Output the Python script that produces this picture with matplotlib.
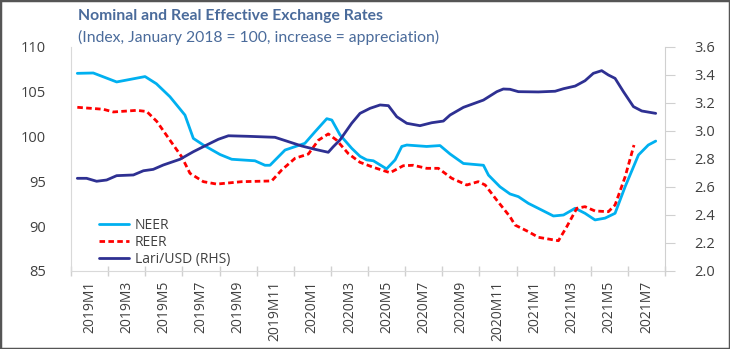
import matplotlib
matplotlib.use("Agg")
import matplotlib.pyplot as plt
from matplotlib.patches import Rectangle
import numpy as np

# x positions in months since start of 2019M1 (category axis, label at centre of 2-month span)
month_labels = ["2019M1", "2019M3", "2019M5", "2019M7", "2019M9", "2019M11",
                "2020M1", "2020M3", "2020M5", "2020M7", "2020M9", "2020M11",
                "2021M1", "2021M3", "2021M5", "2021M7"]

neer_x = [0.34, 1.2, 2.46, 3.99, 4.6, 5.33, 6.14, 6.59, 7.13, 8.03, 8.66, 9.91, 10.45, 10.72,
          11.53, 12.6, 13.15, 13.78, 14.05, 14.49, 15.12, 15.57, 15.93, 16.29, 17.0, 17.46,
          17.82, 18.09, 19.16, 19.88, 20.42, 21.14, 22.22, 22.49, 23.11, 23.65, 24.1, 24.64,
          25.36, 25.99, 26.53, 27.16, 27.69, 28.23, 28.77, 29.31, 29.85, 30.57, 31.1, 31.5]
neer = [107.06, 107.1, 106.1, 106.7, 105.9, 104.45, 102.4, 99.8, 99.06, 98.0, 97.47, 97.3, 96.8, 96.8,
        98.5, 99.25, 100.55, 102.0, 101.85, 100.2, 98.7, 97.8, 97.4, 97.3, 96.4, 97.4,
        98.9, 99.06, 98.9, 99.0, 98.06, 97.0, 96.8, 95.7, 94.4, 93.6, 93.3, 92.55,
        91.8, 91.14, 91.25, 92.0, 91.44, 90.7, 90.9, 91.44, 94.4, 97.95, 99.06, 99.5]

reer_x = [0.34, 1.74, 2.28, 3.54, 4.08, 4.62, 5.33, 5.96, 6.41, 7.13, 7.85, 9.2, 10.81, 11.35,
          12.07, 12.79, 13.33, 13.86, 14.31, 14.94, 15.57, 16.29, 17.19, 17.9, 18.44, 19.16,
          19.79, 20.51, 21.32, 21.94, 22.31, 22.94, 23.65, 23.92, 24.64, 25.18, 26.26, 26.71,
          27.25, 27.69, 28.23, 28.95, 29.31, 29.85, 30.33]
reer = [103.27, 103.05, 102.75, 102.93, 102.8, 101.7, 99.6, 97.76, 95.9, 94.97, 94.7, 94.97, 95.05, 96.27,
        97.58, 98.06, 99.6, 100.3, 99.6, 98.1, 97.13, 96.57, 95.97, 96.75, 96.8, 96.46,
        96.46, 95.35, 94.6, 94.97, 94.6, 92.9, 91.06, 90.13, 89.39, 88.76, 88.38, 89.95,
        92.0, 92.18, 91.7, 91.62, 92.37, 95.5, 99.06]

lari_x = [0.34, 0.84, 1.38, 1.92, 2.46, 3.36, 3.9, 4.43, 4.97, 5.87, 6.59, 7.31, 7.94, 8.48,
          9.55, 10.99, 11.71, 12.43, 13.15, 13.86, 14.13, 14.49, 15.12, 15.57, 16.11, 16.65,
          17.1, 17.55, 18.09, 18.8, 19.43, 20.06, 20.42, 21.14, 22.22, 22.94, 23.29, 23.65,
          24.1, 25.18, 26.08, 26.53, 27.16, 27.69, 28.14, 28.59, 28.95, 29.31, 29.76, 30.3,
          30.75, 31.5]
lari = [2.662, 2.662, 2.641, 2.65, 2.681, 2.686, 2.716, 2.726, 2.757, 2.798, 2.852, 2.9, 2.941, 2.966,
        2.962, 2.955, 2.924, 2.893, 2.869, 2.848, 2.888, 2.936, 3.055, 3.126, 3.162, 3.186,
        3.181, 3.102, 3.055, 3.038, 3.059, 3.071, 3.114, 3.169, 3.221, 3.281, 3.3, 3.298,
        3.281, 3.279, 3.284, 3.302, 3.321, 3.359, 3.412, 3.431, 3.4, 3.376, 3.281, 3.174,
        3.143, 3.126]

plt.rcParams['font.family'] = ['Open Sans', 'DejaVu Sans']

W, H = 730, 349
fig = plt.figure(figsize=(W / 100, H / 100), dpi=100)
ax = fig.add_axes([71 / W, 1 - 271 / H, (665 - 71) / W, (271 - 47) / H])
ax2 = ax.twinx()

c_neer = "#00b0f0"
c_reer = "#ff0000"
c_lari = "#2e3092"
tick_col = "#404040"

l1, = ax.plot(neer_x, neer, color=c_neer, lw=2.0, label="NEER", solid_capstyle="round")
l2, = ax.plot(reer_x, reer, color=c_reer, lw=2.0, ls=(0, (2.0, 1.2)), label="REER")
l3, = ax2.plot(lari_x, lari, color=c_lari, lw=2.0, label="Lari/USD (RHS)", solid_capstyle="round")

ax.set_xlim(0, 32)
ax.set_ylim(85, 110)
ax.set_yticks(np.arange(85, 111, 5))
ax2.set_ylim(2.0, 3.6)
ax2.set_yticks(np.arange(2.0, 3.61, 0.2))
ax2.set_yticklabels([f"{v:.1f}" for v in np.arange(2.0, 3.61, 0.2)])

ax.set_xticks(np.arange(0, 33, 2))
ax.set_xticklabels([])
ax.set_xticks(np.arange(1, 32, 2), minor=True)
ax.set_xticklabels(month_labels, minor=True, rotation=90, fontsize=10, color=tick_col)
ax.tick_params(axis='x', which='major', direction='inout', length=7, color="#d0d0d0", width=1)
ax.tick_params(axis='x', which='minor', length=0, pad=7)
ax.tick_params(axis='y', length=0, labelsize=10.5, labelcolor=tick_col, pad=18)
for lab in ax.get_yticklabels():
    lab.set_horizontalalignment('right')
ax2.tick_params(axis='y', direction='out', length=7, color="#d0d0d0", labelsize=10.5,
                labelcolor=tick_col, pad=14)

for a in (ax, ax2):
    a.spines['top'].set_visible(False)
    a.patch.set_visible(False)
ax.spines['left'].set_color("#d9d9d9")
ax.spines['bottom'].set_color("#d9d9d9")
ax.spines['right'].set_visible(False)
ax2.spines['left'].set_visible(False)
ax2.spines['bottom'].set_visible(False)
ax2.spines['right'].set_color("#d0d0d0")

leg = ax.legend(handles=[l1, l2, l3], loc='upper left', bbox_to_anchor=(22 / 594, 1 - 165 / 224),
                frameon=False, fontsize=10, handlelength=2.2, handletextpad=0.4,
                labelspacing=0.15, borderaxespad=0)
for t in leg.get_texts():
    t.set_color(tick_col)

title_col = "#4a6b9b"
fig.text(78 / W, 1 - 16 / H, "Nominal and Real Effective Exchange Rates", fontsize=11.3,
         fontweight='bold', color=title_col, va='center', ha='left', family=['Lato', 'DejaVu Sans'])
fig.text(78 / W, 1 - 37 / H, "(Index, January 2018 = 100, increase = appreciation)", fontsize=11.3,
         color=title_col, va='center', ha='left', family=['Lato', 'DejaVu Sans'])

fig.patches.append(Rectangle((0, 0), 1, 1, transform=fig.transFigure, fill=False,
                             edgecolor="#555555", lw=2.5))

fig.savefig("out.png", dpi=100)
